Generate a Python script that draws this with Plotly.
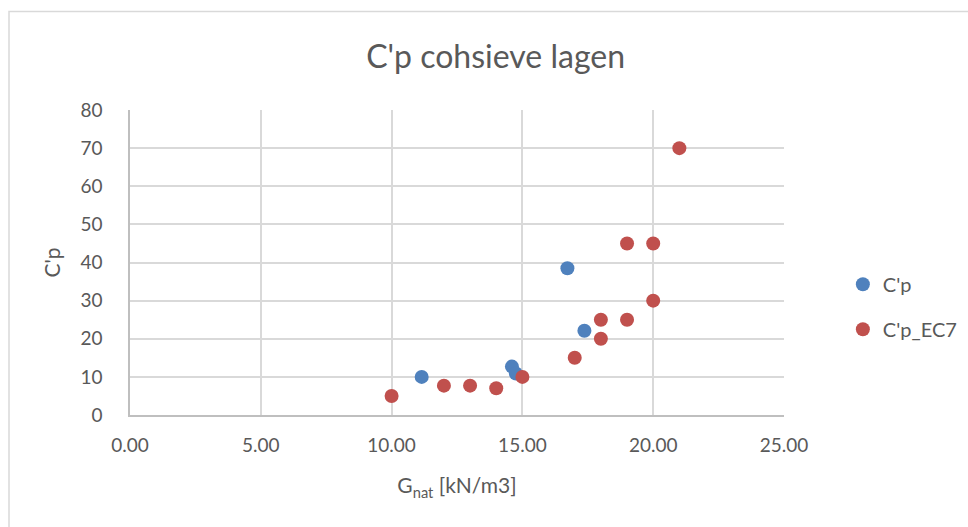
import plotly.graph_objects as go

# Data
cp_x = [11.15, 14.6, 14.75, 16.72, 17.37]
cp_y = [10.0, 12.7, 10.9, 38.5, 22.1]

ec7_x = [10, 12, 13, 14, 15, 17, 18, 18, 19, 19, 20, 20, 21]
ec7_y = [5, 7.7, 7.7, 7, 10, 15, 20, 25, 25, 45, 30, 45, 70]

x_ticks = [0, 5, 10, 15, 20, 25]
x_tick_labels = ["0.00", "5.00", "10.00", "15.00", "20.00", "25.00"]
y_ticks = [0, 10, 20, 30, 40, 50, 60, 70, 80]

FONT = "Lato"
GREY = "#595959"

fig = go.Figure()
fig.add_trace(go.Scatter(x=cp_x, y=cp_y, mode="markers", name="C'p",
                         legendgroup="a",
                         marker=dict(color="#4F81BD", size=14)))
fig.add_trace(go.Scatter(x=ec7_x, y=ec7_y, mode="markers", name="C'p_EC7",
                         legendgroup="b",
                         marker=dict(color="#C0504D", size=14)))

fig.update_layout(
    width=968, height=527,
    paper_bgcolor="white", plot_bgcolor="white",
    margin=dict(l=130, r=184, t=110, b=112, autoexpand=False),
    font=dict(family=FONT, color=GREY, size=19),
    title=dict(text="C'p cohsieve lagen", x=0.512, xanchor="center",
               y=0.892, yanchor="middle",
               font=dict(family=FONT, size=32, color=GREY)),
    xaxis=dict(range=[0, 25], tickvals=x_ticks, ticktext=x_tick_labels,
               showgrid=True, gridcolor="#d9d9d9", gridwidth=1.5,
               showline=True, linecolor="#bfbfbf", linewidth=1.5,
               zeroline=False, ticks="", ticklabelstandoff=12,
               automargin=False,
               tickfont=dict(size=19, color=GREY),
               title=dict(text="G<sub>nat</sub> [kN/m3]", standoff=24,
                          font=dict(size=21, color=GREY))),
    yaxis=dict(range=[0, 80], tickvals=y_ticks,
               showgrid=True, gridcolor="#d9d9d9", gridwidth=1.5,
               showline=True, linecolor="#bfbfbf", linewidth=1.5,
               zeroline=False, ticks="", ticklabelstandoff=22,
               automargin=False,
               tickfont=dict(size=19, color=GREY),
               title=dict(text="C'p", standoff=14,
                          font=dict(size=21, color=GREY))),
    legend=dict(x=1.09, xanchor="left", y=0.355, yanchor="middle",
                tracegroupgap=16, font=dict(size=20, color=GREY),
                itemwidth=30),
    shapes=[dict(type="rect", xref="paper", yref="paper",
                 x0=-0.185, x1=1.3, y0=-0.4, y1=1.323,
                 line=dict(color="#d9d9d9", width=1.5), layer="below")],
)

fig.write_html("out.html")
